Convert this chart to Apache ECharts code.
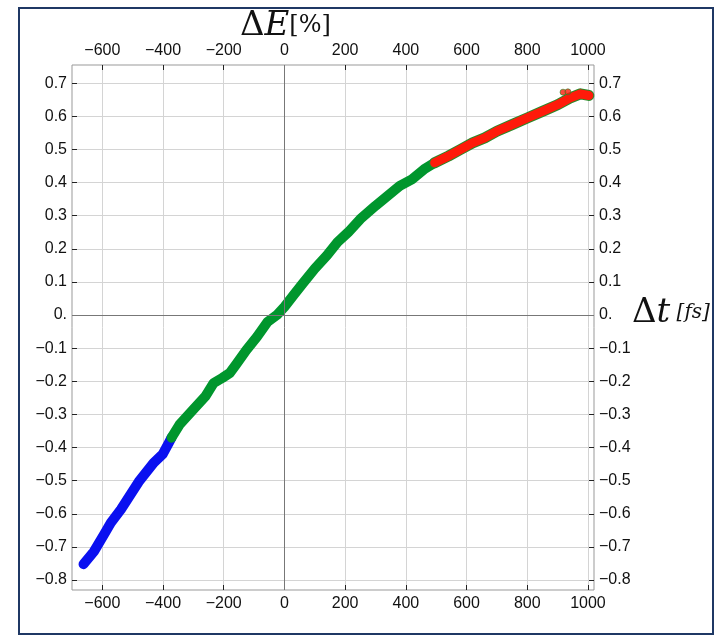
<!DOCTYPE html>
<html>
<head>
<meta charset="utf-8">
<script src="https://cdn.jsdelivr.net/npm/echarts@6/dist/echarts.min.js"></script>
<style>
  html, body { margin: 0; padding: 0; background: #fff; }
  #main { width: 721px; height: 637px; }
</style>
</head>
<body>
<div id="main"></div>
<script>
// 刻度
const xTicks = [-600, -400, -200, 0, 200, 400, 600, 800, 1000];
const yTicks = [-0.8, -0.7, -0.6, -0.5, -0.4, -0.3, -0.2, -0.1, 0, 0.1, 0.2, 0.3, 0.4, 0.5, 0.6, 0.7];

// 蓝色段
const blueX = [-662, -628, -595, -572, -539, -480, -431, -401, -381, -372];
const blueY = [-0.752, -0.714, -0.663, -0.627, -0.587, -0.503, -0.446, -0.42, -0.386, -0.37];

// 绿色段
const greenX = [-372, -345, -300, -260, -233, -205, -180, -160, -125, -90, -55, -25, 0, 30, 60, 100, 140, 175, 210, 250, 300, 340, 380, 420, 460, 495];
const greenY = [-0.37, -0.33, -0.285, -0.245, -0.205, -0.19, -0.175, -0.15, -0.105, -0.065, -0.02, 0.0, 0.025, 0.06, 0.095, 0.14, 0.18, 0.22, 0.25, 0.29, 0.33, 0.36, 0.39, 0.41, 0.44, 0.46];

// 红色段
const redX = [495, 540, 580, 620, 660, 700, 750, 800, 850, 900, 940, 975, 1003];
const redY = [0.46, 0.48, 0.5, 0.52, 0.535, 0.555, 0.575, 0.595, 0.615, 0.635, 0.655, 0.668, 0.663];

// 离散点
const dotX = [918, 934];
const dotY = [0.673, 0.674];

function pairs(xs, ys) {
  return xs.map((x, i) => [x, ys[i]]);
}

function fmt(v, isY) {
  if (v === 0) return isY ? "0." : "0";
  let s = isY ? (Math.round(v * 10) / 10).toString() : v.toString();
  return s.replace("-", "\u2212");
}

const labelFont = {
  fontFamily: "Liberation Sans",
  fontSize: 16,
  color: "#111",
};

function xAxis(pos) {
  return {
    type: "value",
    position: pos,
    min: -700,
    max: 1020,
    axisLine: { show: false, onZero: false },
    axisTick: { show: true, inside: true, length: 5, customValues: xTicks, lineStyle: { color: "#222" } },
    axisLabel: Object.assign({ customValues: xTicks, margin: 6, formatter: v => fmt(v, false) }, labelFont),
    splitLine: { show: pos === "bottom", lineStyle: { color: "#d4d4d4", width: 1 } },
  };
}

function yAxis(pos) {
  return {
    type: "value",
    position: pos,
    min: -0.83,
    max: 0.755,
    axisLine: { show: false, onZero: false },
    axisTick: { show: true, inside: true, length: 5, customValues: yTicks, lineStyle: { color: "#222" } },
    axisLabel: Object.assign({ customValues: yTicks, margin: 5, formatter: v => fmt(v, true) }, labelFont),
    splitLine: { show: pos === "left", lineStyle: { color: "#d4d4d4", width: 1 } },
  };
}

function curve(data, color, width, z) {
  return {
    type: "line",
    data: data,
    showSymbol: false,
    silent: true,
    z: z,
    lineStyle: { color: color, width: width, cap: "round", join: "round" },
  };
}

const option = {
  animation: false,
  backgroundColor: "#fff",
  grid: {
    left: 72, top: 65, width: 522, height: 525,
    show: true, borderColor: "#999", borderWidth: 1,
  },
  xAxis: [xAxis("bottom"), xAxis("top")],
  yAxis: [yAxis("left"), yAxis("right")],
  series: [
    {
      type: "line",
      data: [],
      silent: true,
      markLine: {
        symbol: "none",
        silent: true,
        label: { show: false },
        lineStyle: { color: "#777", width: 1, type: "solid" },
        data: [{ xAxis: 0 }, { yAxis: 0 }],
      },
    },
    curve(pairs(blueX, blueY), "#0a10f0", 10, 3),
    curve(pairs(greenX, greenY), "#00962d", 10, 3),
    curve(pairs(redX, redY), "#2a8a2a", 11, 4),
    curve(pairs(redX, redY), "#ff1a0a", 9, 5),
    {
      type: "scatter",
      data: pairs(dotX, dotY),
      symbolSize: 6,
      silent: true,
      z: 6,
      itemStyle: { color: "#ff1a0a", borderColor: "#2a8a2a", borderWidth: 0.8 },
    },
  ],
  graphic: [
    {
      type: "rect",
      shape: { x: 19, y: 8, width: 694, height: 626 },
      style: { fill: "none", stroke: "#1f3864", lineWidth: 2 },
    },
    {
      type: "text",
      left: 240,
      top: 9,
      style: {
        text: "{d|Δ}{e|E}{b|[%]}",
        rich: {
          d: { fontFamily: "DejaVu Serif", fontSize: 34, fill: "#111" },
          e: { fontFamily: "DejaVu Serif", fontStyle: "italic", fontSize: 34, fill: "#111" },
          b: { fontFamily: "DejaVu Serif", fontSize: 24, fill: "#111" },
        },
      },
    },
    {
      type: "text",
      left: 632,
      top: 296,
      style: {
        text: "{d|Δ}{e|t}{b| [fs]}",
        rich: {
          d: { fontFamily: "DejaVu Serif", fontSize: 34, fill: "#111" },
          e: { fontFamily: "DejaVu Serif", fontStyle: "italic", fontSize: 34, fill: "#111" },
          b: { fontFamily: "DejaVu Serif", fontStyle: "italic", fontSize: 20, fill: "#111" },
        },
      },
    },
  ],
};

const myChart = echarts.init(document.getElementById("main"));
myChart.setOption(option);
</script>
</body>
</html>
